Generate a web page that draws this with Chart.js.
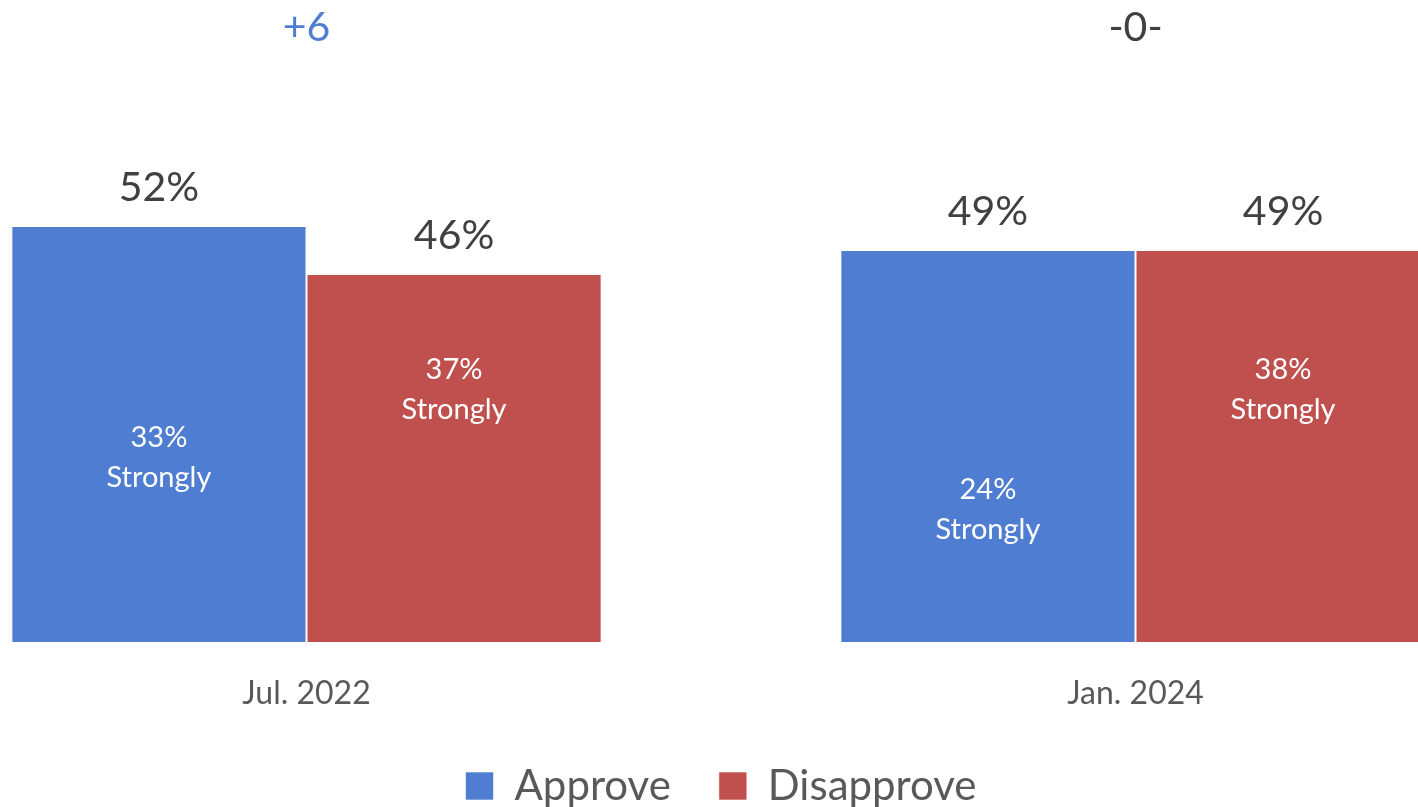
<!DOCTYPE html>
<html>
<head>
<meta charset="utf-8">
<script src="https://cdn.jsdelivr.net/npm/chart.js@4"></script>
<style>
  html, body { margin: 0; padding: 0; background: #fff; overflow: hidden; }
  #wrap { position: relative; width: 1418px; height: 807px; overflow: hidden; }
  /* the original picture is a crop of a wider chart, so the canvas starts left of the window */
  #chart { position: absolute; left: -108px; top: 0; }
</style>
</head>
<body>
<div id="wrap"><canvas id="chart" width="1676" height="817"></canvas></div>
<script>
const categories = ['Jul. 2022', 'Jan. 2024']
const approve = [52, 49]
const disapprove = [46, 49]
const approveStrongly = [33, 24]
const disapproveStrongly = [37, 38]
const netLabels = ['+6', '-0-']

// where the "Strongly" notes sit, in axis units (they were placed by hand in the original)
const strongAt = [[23, 16.6], [31.5, 31.5]]

const BLUE = '#4e7dd1'
const RED = '#c0504d'
const FONT = 'Lato, "Open Sans", sans-serif'

const labelsPlugin = {
  id: 'barLabels',
  afterDatasetsDraw(chart) {
    const ctx = chart.ctx
    const y = chart.scales.y
    const strong = [approveStrongly, disapproveStrongly]
    ctx.save()
    ctx.textAlign = 'center'
    ctx.textBaseline = 'middle'
    chart.data.datasets.forEach((ds, di) => {
      chart.getDatasetMeta(di).data.forEach((bar, i) => {
        ctx.fillStyle = '#404040'
        ctx.font = '41px ' + FONT
        ctx.fillText(ds.data[i] + '%', bar.x, bar.y - 38)
        ctx.fillStyle = '#ffffff'
        ctx.font = '29px ' + FONT
        const cy = y.getPixelForValue(strongAt[di][i])
        ctx.fillText(strong[di][i] + '%', bar.x, cy - 20)
        ctx.fillText('Strongly', bar.x, cy + 20)
      })
    })
    // net difference above each group
    const x = chart.scales.x
    ctx.font = '41px ' + FONT
    netLabels.forEach((t, i) => {
      ctx.fillStyle = i === 0 ? BLUE : '#404040'
      ctx.fillText(t, x.getPixelForValue(i), chart.chartArea.top + 26)
    })
    ctx.restore()
  }
}

new Chart(document.getElementById('chart'), {
  type: 'bar',
  data: {
    labels: categories,
    datasets: [
      { label: 'Approve', data: approve, backgroundColor: BLUE, borderColor: 'rgba(255,255,255,0.6)', borderWidth: 1 },
      { label: 'Disapprove', data: disapprove, backgroundColor: RED, borderColor: 'rgba(255,255,255,0.6)', borderWidth: 1 }
    ]
  },
  options: {
    responsive: false,
    animation: false,
    devicePixelRatio: 1,
    layout: { padding: { top: 2, left: 0, right: 18, bottom: 0 } },
    datasets: {
      bar: { categoryPercentage: 0.712, barPercentage: 1.0 }
    },
    plugins: {
      tooltip: { enabled: false },
      legend: {
        position: 'bottom',
        labels: {
          color: '#595959',
          font: { family: FONT, size: 42 },
          boxWidth: 28,
          boxHeight: 28,
          padding: 48
        }
      }
    },
    scales: {
      x: {
        grid: { display: false },
        border: { display: false },
        ticks: { color: '#595959', font: { family: FONT, size: 32 }, padding: 24 },
        afterFit(scale) { scale.height = 75 }
      },
      y: {
        display: false,
        min: 0,
        max: 80
      }
    }
  },
  plugins: [labelsPlugin]
})
</script>
</body>
</html>
